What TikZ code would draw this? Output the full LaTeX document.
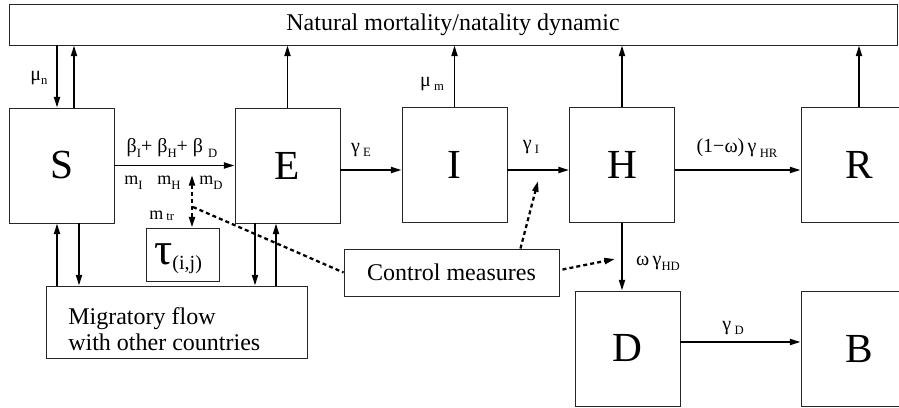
\documentclass[tikz,border=0pt]{standalone}
\usepackage{fontspec}
\setmainfont{Liberation Serif}
\usetikzlibrary{arrows.meta,calc}
\newcommand{\sbs}[1]{\raisebox{-3.5pt}{\fontsize{9.5}{9.5}\selectfont #1}}
\begin{document}
\begin{tikzpicture}[x=0.75pt,y=-0.75pt,
  box/.style={draw=black!85, line width=0.7pt, inner sep=0pt, minimum width=78.75pt, minimum height=86.25pt, font=\fontsize{31}{31}\selectfont},
  arr/.style={line width=1.4pt, -{Triangle[length=8pt,width=4.5pt]}},
  dsh/.style={line width=1.7pt, dash pattern=on 3pt off 2.3pt},
  lab/.style={font=\fontsize{15}{15}\selectfont, inner sep=0pt},
  mlab/.style={font=\fontsize{13.5}{13.5}\selectfont, inner sep=0pt, anchor=west},
  txt/.style={font=\fontsize{18}{19.5}\selectfont}]
\useasboundingbox (0,0) rectangle (899,407);

% boxes
\node[box, minimum width=666pt, minimum height=30.75pt, txt] (nat) at (453,24.5) {Natural mortality/natality dynamic};
\node[box] (S) at (61.5,165.5) {S};
\node[box] (E) at (287.5,165.5) {E};
\node[box] (I) at (454.5,165) {I};
\node[box] (H) at (622,165) {H};
\node[box, minimum width=87pt] (R) at (859,165) {R};
\node[box] (D) at (627.5,348.5) {D};
\node[box, minimum width=87pt] (B) at (859,349) {B};
\node[box, minimum width=54.75pt, minimum height=39.75pt] (tau) at (182.5,254.5) {};
\node[inner sep=0pt, anchor=base west] (taut) at (154,264) {\fontsize{34}{34}\selectfont τ\raisebox{-4pt}{\fontsize{15}{15}\selectfont (i,j)}};
\node[box, minimum width=195.75pt, minimum height=54pt] (mig) at (176.5,322) {};
\node[txt, anchor=west, align=left, inner sep=0pt] (migt) at (68,329) {Migratory flow\\with other countries};
\node[box, minimum width=161.25pt, minimum height=35.25pt, txt] (ctrl) at (451.5,272.5) {Control measures};

% helper coordinates
\coordinate (x57) at (57,0);
\coordinate (x74) at (74,0);
\coordinate (x79) at (79,0);
\coordinate (x255) at (255,0);
\coordinate (x276) at (276,0);
\coordinate (x192) at (192,0);
\coordinate (y170) at (0,170);
\coordinate (y342) at (0,342);

% natural dynamic arrows
\draw[arr] (nat.south -| x57) -- (S.north -| x57);
\draw[arr] (S.north -| x74) -- (nat.south -| x74);
\draw[arr] (E.north) -- (nat.south -| E.north);
\draw[arr] (I.north) -- (nat.south -| I.north);
\draw[arr] (H.north) -- (nat.south -| H.north);
\draw[arr] (R.north) -- (nat.south -| R.north);

% main flow
\draw[arr] (S.east) -- (E.west);
\draw[arr] (E.east |- y170) -- (I.west |- y170);
\draw[arr] (I.east |- y170) -- (H.west |- y170);
\draw[arr] (H.east |- y170) -- (R.west |- y170);
\draw[arr] (H.south) -- (D.north -| H.south);
\draw[arr] (D.east |- y342) -- (B.west |- y342);

% migratory
\draw[arr] (mig.north -| x57) -- (S.south -| x57);
\draw[arr] (S.south -| x79) -- (mig.north -| x79);
\draw[arr] (E.south -| x255) -- (mig.north -| x255);
\draw[arr] (mig.north -| x276) -- (E.south -| x276);

% dashed control links
\coordinate (mtop) at (192,175);
\coordinate (mjoin) at (193,207);
\coordinate (gtip) at (538,181);
\coordinate (wtip) at (615,259);
\draw[dsh, {Triangle[length=8pt,width=4.5pt]}-{Triangle[length=8pt,width=4.5pt]}] (mtop) -- (tau.north -| x192);
\draw[dsh] (mjoin) -- (ctrl.west);
\draw[dsh, -{Triangle[length=8pt,width=4.5pt]}] ($(ctrl.north east)+(-39,0)$) -- (gtip);
\draw[dsh, -{Triangle[length=8pt,width=4.5pt]}] ($(ctrl.east)+(3,-3)$) -- (wtip);

% labels
\node[lab] (lmun) at (39,78) {μ\sbs{n}};
\node[lab] (lmum) at (432,84) {μ\,\sbs{m}};
\node[lab] (lbeta) at (172,148) {β\sbs{I}+ β\sbs{H}+ β \sbs{D}};
\node[mlab] (lmi) at (124,183) {m\sbs{I}};
\node[mlab] (lmh) at (157,183) {m\sbs{H}};
\node[mlab] (lmd) at (199,183) {m\sbs{D}};
\node[mlab] (lmtr) at (149,216) {m\,\raisebox{-1pt}{\fontsize{9.5}{9.5}\selectfont tr}};
\node[lab] (lge) at (361,150) {γ\,\sbs{E}};
\node[lab] (lgi) at (531,147) {γ\,\sbs{I}};
\node[lab] (lghr) at (737,148) {(1−ω)\,γ\,\sbs{HR}};
\node[lab] (lghd) at (658,263) {ω\,γ\sbs{HD}};
\node[lab] (lgd) at (733,328) {γ\,\sbs{D}};
\end{tikzpicture}
\end{document}
